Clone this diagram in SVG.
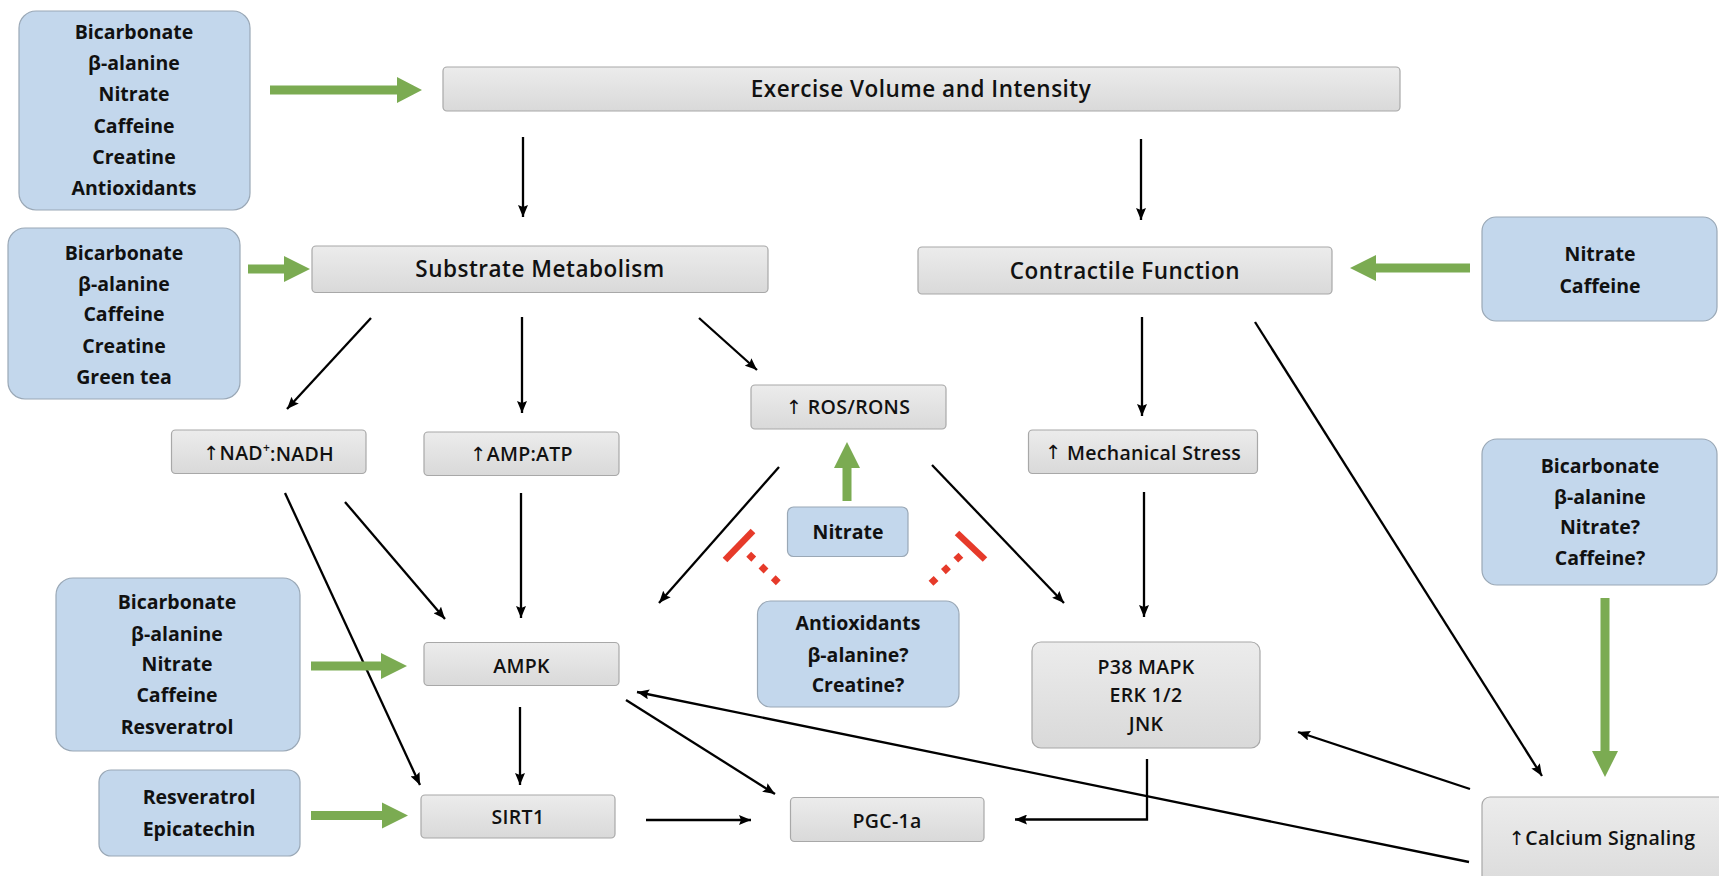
<svg xmlns="http://www.w3.org/2000/svg" width="1719" height="876" viewBox="0 0 1719 876">
<defs>
<linearGradient id="gg" x1="0" y1="0" x2="0" y2="1">
<stop offset="0" stop-color="#ececec"/>
<stop offset="1" stop-color="#d9d9d9"/>
</linearGradient>
<marker id="ah" viewBox="0 0 12 10" refX="12" refY="5" markerWidth="12" markerHeight="10" markerUnits="userSpaceOnUse" orient="auto">
<path d="M0,0 L12,5 L0,10 L2,5 z" fill="#000"/>
</marker>
<style>
.blue{fill:#c3d7ec;stroke:#9aa8b6;stroke-width:1.2}
.grey{fill:url(#gg);stroke:#a8a8a8;stroke-width:1.2}
text{font-family:"Open Sans","Liberation Sans",sans-serif;fill:#111;text-anchor:middle;dominant-baseline:central}
.bt{font-size:19.5px;font-weight:700}
.big{font-size:22.5px;font-weight:600;letter-spacing:0.5px}
.sm{font-size:19.5px;font-weight:600;letter-spacing:0.3px}
.up{font-family:"DejaVu Sans",sans-serif;font-weight:400}
.ln{stroke:#000;stroke-width:2.3;fill:none;marker-end:url(#ah)}
.gr{fill:#7bab52}
.bar{stroke:#e63a2a;stroke-width:6.5;fill:none}
.dot{stroke:#e63a2a;stroke-width:7;fill:none;stroke-dasharray:7 10}
</style>
</defs>

<g id="connectors">
<line class="ln" x1="523" y1="137" x2="523" y2="217"/>
<line class="ln" x1="1141" y1="139" x2="1141" y2="220"/>
<line class="ln" x1="371" y1="318" x2="287" y2="409"/>
<line class="ln" x1="522" y1="317" x2="522" y2="413"/>
<line class="ln" x1="699" y1="318" x2="757" y2="370"/>
<line class="ln" x1="1142" y1="317" x2="1142" y2="416"/>
<line class="ln" x1="1255" y1="322" x2="1542" y2="776"/>
<line class="ln" x1="345" y1="502" x2="445" y2="619"/>
<line class="ln" x1="285" y1="493" x2="420" y2="785"/>
<line class="ln" x1="521" y1="493" x2="521" y2="618"/>
<line class="ln" x1="779" y1="467" x2="659" y2="603"/>
<line class="ln" x1="932" y1="465" x2="1064" y2="603"/>
<line class="ln" x1="1144" y1="492" x2="1144" y2="617"/>
<line class="ln" x1="520" y1="707" x2="520" y2="785"/>
<line class="ln" x1="626" y1="700" x2="775" y2="794"/>
<line class="ln" x1="646" y1="820" x2="751" y2="820"/>
<path class="ln" d="M1147,759 L1147,819.5 L1015,819.5"/>
<line class="ln" x1="1470" y1="789" x2="1298" y2="732"/>
<line class="ln" x1="1469" y1="862" x2="637" y2="692"/>
<polygon class="gr" points="270,85.5 397,85.5 397,77 422,90 397,103 397,94.5 270,94.5"/>
<polygon class="gr" points="248,264.5 284,264.5 284,256 310,269 284,282 284,273.5 248,273.5"/>
<polygon class="gr" points="1470,263.5 1376,263.5 1376,255 1350,268 1376,281 1376,272.5 1470,272.5"/>
<polygon class="gr" points="842.5,501 842.5,468 834,468 847,442 860,468 851.5,468 851.5,501"/>
<polygon class="gr" points="1600.5,598 1600.5,751 1592,751 1605,777 1618,751 1609.5,751 1609.5,598"/>
<polygon class="gr" points="311,661.5 381,661.5 381,653 407,666 381,679 381,670.5 311,670.5"/>
<polygon class="gr" points="311,811 382,811 382,802.5 408,815.5 382,828.5 382,820 311,820"/>
<line class="bar" x1="725" y1="560" x2="753" y2="531"/>
<line class="dot" x1="748.7" y1="554.3" x2="778.3" y2="582.7"/>
<line class="bar" x1="957" y1="533" x2="985" y2="559.5"/>
<line class="dot" x1="960.9" y1="555.2" x2="931" y2="583.2"/>
</g>

<g id="supp1"><rect class="blue" x="19" y="11" width="231" height="199" rx="17"/>
<text class="bt" x="134" y="31">Bicarbonate</text><text class="bt" x="134" y="62.5">β-alanine</text><text class="bt" x="134" y="93">Nitrate</text><text class="bt" x="134" y="125">Caffeine</text><text class="bt" x="134" y="156">Creatine</text><text class="bt" x="134" y="187.5">Antioxidants</text></g>

<g id="supp2"><rect class="blue" x="8" y="228" width="232" height="171" rx="17"/>
<text class="bt" x="124" y="252">Bicarbonate</text><text class="bt" x="124" y="283">β-alanine</text><text class="bt" x="124" y="313.5">Caffeine</text><text class="bt" x="124" y="345">Creatine</text><text class="bt" x="124" y="376">Green tea</text></g>

<g id="supp3"><rect class="blue" x="1482" y="217" width="235" height="104" rx="14"/>
<text class="bt" x="1600" y="253.5">Nitrate</text><text class="bt" x="1600" y="285">Caffeine</text></g>

<g id="supp4"><rect class="blue" x="1482" y="439" width="235" height="146" rx="15"/>
<text class="bt" x="1600" y="465">Bicarbonate</text><text class="bt" x="1600" y="496">β-alanine</text><text class="bt" x="1600" y="526.5">Nitrate?</text><text class="bt" x="1600" y="557.5">Caffeine?</text></g>

<g id="supp5"><rect class="blue" x="56" y="578" width="244" height="173" rx="17"/>
<text class="bt" x="177" y="601.5">Bicarbonate</text><text class="bt" x="177" y="633">β-alanine</text><text class="bt" x="177" y="663.5">Nitrate</text><text class="bt" x="177" y="694.5">Caffeine</text><text class="bt" x="177" y="726">Resveratrol</text></g>

<g id="supp6"><rect class="blue" x="99" y="770" width="201" height="86" rx="12"/>
<text class="bt" x="199" y="796.5">Resveratrol</text><text class="bt" x="199" y="828">Epicatechin</text></g>

<g id="supp7"><rect class="blue" x="787.5" y="507" width="120.5" height="49.5" rx="6"/>
<text class="bt" x="848" y="531.5">Nitrate</text></g>

<g id="supp8"><rect class="blue" x="757.5" y="601" width="201.5" height="106" rx="13"/>
<text class="bt" x="858" y="622.5">Antioxidants</text><text class="bt" x="858" y="654">β-alanine?</text><text class="bt" x="858" y="684">Creatine?</text></g>

<g id="exercise"><rect class="grey" x="443" y="67" width="957" height="44" rx="4"/>
<text class="big" x="921" y="88.5">Exercise Volume and Intensity</text></g>

<g id="substrate"><rect class="grey" x="312" y="246" width="456" height="46.5" rx="4"/>
<text class="big" x="540" y="268.5">Substrate Metabolism</text></g>

<g id="contractile"><rect class="grey" x="918" y="247" width="414" height="47" rx="4"/>
<text class="big" x="1125" y="270">Contractile Function</text></g>

<g id="nad"><rect class="grey" x="171.5" y="430" width="194.5" height="43.5" rx="4"/>
<text class="sm" x="268.5" y="452.5"><tspan class="up">↑</tspan>NAD<tspan font-size="12" dy="-6">+</tspan><tspan dy="6">:NADH</tspan></text></g>

<g id="amp"><rect class="grey" x="424" y="432" width="195" height="43.5" rx="4"/>
<text class="sm" x="521.5" y="453.5"><tspan class="up">↑</tspan>AMP:ATP</text></g>

<g id="ros"><rect class="grey" x="751" y="385" width="195" height="44" rx="4"/>
<text class="sm" x="848" y="406.5"><tspan class="up">↑</tspan> ROS/RONS</text></g>

<g id="mech"><rect class="grey" x="1028.5" y="430" width="229" height="43.5" rx="4"/>
<text class="sm" x="1143" y="452"><tspan class="up">↑</tspan> Mechanical Stress</text></g>

<g id="ampk"><rect class="grey" x="424" y="642.5" width="195" height="43" rx="4"/>
<text class="sm" x="521.5" y="665">AMPK</text></g>

<g id="mapk"><rect class="grey" x="1032" y="642" width="228" height="106" rx="9"/>
<text class="sm" x="1146" y="666.5">P38 MAPK</text><text class="sm" x="1146" y="694.5">ERK 1/2</text><text class="sm" x="1146" y="723">JNK</text></g>

<g id="sirt1"><rect class="grey" x="421" y="795" width="194" height="43" rx="4"/>
<text class="sm" x="518" y="816.5">SIRT1</text></g>

<g id="pgc"><rect class="grey" x="790.5" y="797.5" width="193.5" height="44" rx="4"/>
<text class="sm" x="887" y="820">PGC-1a</text></g>

<g id="calcium"><rect class="grey" x="1482" y="797" width="250" height="100" rx="8"/>
<text class="sm" x="1602" y="837.5" letter-spacing="0.7"><tspan class="up">↑</tspan>Calcium Signaling</text></g>
</svg>
